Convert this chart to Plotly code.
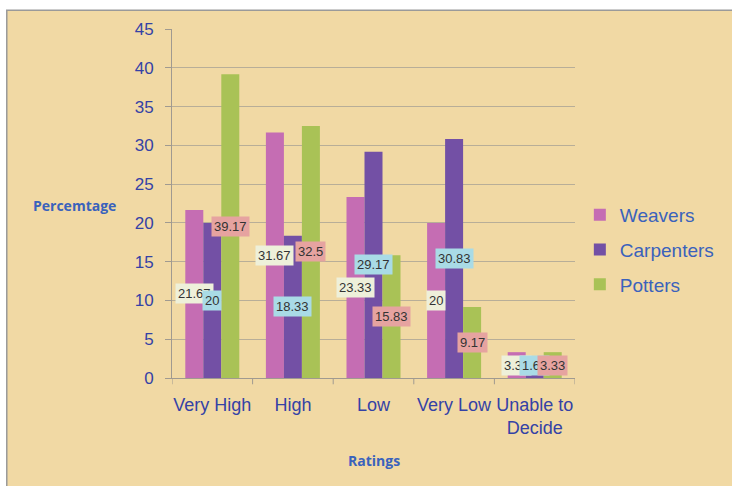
import plotly.graph_objects as go

categories = ["Very High", "High", "Low", "Very Low", "Unable to<br>Decide"]
weavers = [21.67, 31.67, 23.33, 20, 3.33]
carpenters = [20, 18.33, 29.17, 30.83, 1.67]
potters = [39.17, 32.5, 15.83, 9.17, 3.33]
y_ticks = [0, 5, 10, 15, 20, 25, 30, 35, 40, 45]

series = [
    ("Weavers", weavers, "#c56db3", "#eef0da"),
    ("Carpenters", carpenters, "#7350a5", "#a9dbe6"),
    ("Potters", potters, "#a9c256", "#e6a3a0"),
]

BLUE = "#3442a6"
LBLUE = "#3a62bc"
FONT = "Liberation Sans, Arial, sans-serif"
bargap = 0.33
bw = (1 - bargap) / 3

fig = go.Figure()
annotations = []
for k, (name, vals, col, lblcol) in enumerate(series):
    fig.add_trace(go.Bar(name=name, x=list(range(len(categories))), y=vals,
                         legendgroup=name,
                         marker=dict(color=col, line=dict(width=0))))
    off = (k - 1) * bw
    for i, v in enumerate(vals):
        annotations.append(dict(
            x=i + off, y=max(v / 2, 1.6), xref="x", yref="y", text=f"{v:g}",
            showarrow=False, bgcolor=lblcol, borderpad=2,
            font=dict(family=FONT, size=13, color="#333333")))

annotations.append(dict(x=-0.241, y=0.495, xref="paper", yref="paper",
                        xanchor="center", yanchor="middle",
                        text="<b>Percemtage</b>", showarrow=False,
                        font=dict(family="Open Sans", size=14, color=LBLUE)))
annotations.append(dict(x=0.502, y=-0.235, xref="paper", yref="paper",
                        xanchor="center", yanchor="middle",
                        text="<b>Ratings</b>", showarrow=False,
                        font=dict(family="Open Sans", size=14, color=LBLUE)))

fig.update_layout(
    width=732, height=486,
    margin=dict(l=172, r=157, t=29, b=108, autoexpand=False),
    paper_bgcolor="white",
    plot_bgcolor="rgba(0,0,0,0)",
    barmode="group", bargap=bargap, bargroupgap=0,
    font=dict(family=FONT, color=BLUE),
    annotations=annotations,
    shapes=[dict(type="rect", xref="paper", yref="paper",
                 x0=-0.41, x1=1.5, y0=-0.4, y1=1.054,
                 fillcolor="#f1d9a4", line=dict(color="#9a9a9a", width=1.5),
                 layer="below")],
    legend=dict(x=1.012, y=0.367, xanchor="left", yanchor="middle",
                font=dict(family=FONT, size=19, color=LBLUE),
                bgcolor="rgba(0,0,0,0)", itemwidth=30, tracegroupgap=7),
    xaxis=dict(tickmode="array", tickvals=list(range(len(categories))),
               ticktext=categories, range=[-0.5, 4.5],
               showline=True, linecolor="#a09a90", linewidth=1,
               ticks="", showgrid=False, ticklabelstandoff=10,
               tickfont=dict(family=FONT, size=18, color=BLUE)),
    yaxis=dict(range=[0, 45], tickvals=y_ticks, showline=True,
               linecolor="#a09a90", linewidth=1, ticks="outside",
               ticklen=6, tickcolor="#a09a90", gridcolor="#b8ae98",
               gridwidth=1, zeroline=False, ticklabelstandoff=8,
               tickfont=dict(family=FONT, size=17, color=BLUE)),
)

# category boundary tick marks on x axis
for b in range(len(categories) + 1):
    fig.add_shape(type="line", xref="x", yref="paper", x0=b - 0.5, x1=b - 0.5,
                  y0=0, y1=-0.018, line=dict(color="#a09a90", width=1))

fig.write_html("out.html")
